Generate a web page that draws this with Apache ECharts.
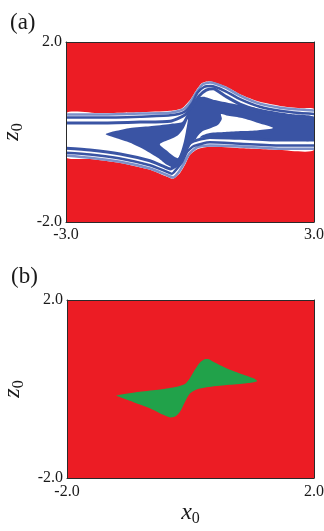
<!DOCTYPE html>
<html><head><meta charset="utf-8">
<script src="https://cdn.jsdelivr.net/npm/echarts@6/dist/echarts.min.js"></script>
<style>html,body{margin:0;padding:0;background:#fff}#c{width:324px;height:531px}</style>
</head><body><div id="c"></div>
<script>
// ---------- Panel (a) data (x0 in [-3,3], z0 in [-2,2]) ----------
const aXTicks = [-3, 3];
const aXTickLabels = ['-3.0', '3.0'];
const aZTicks = [-2, 2];
const aZTickLabels = ['-2.0', '2.0'];

// outer boundary of the non-red band
const bandTop = [[-3,0.42],[-2.18,0.42],[-1.21,0.44],[-0.48,0.47],[-0.19,0.53],[0,0.71],[0.15,0.93],[0.29,1.09],[0.48,1.13],[0.85,1.02],[1.21,0.84],[1.69,0.67],[2.18,0.58],[2.66,0.53],[3,0.51]];
const bandBottom = [[-3,-0.56],[-2.42,-0.60],[-1.69,-0.69],[-0.97,-0.84],[-0.60,-0.98],[-0.41,-1.04],[-0.24,-0.91],[-0.12,-0.73],[0,-0.51],[0.19,-0.38],[0.48,-0.33],[1.21,-0.36],[2.18,-0.40],[3,-0.40]];

// blue stripes along the upper edge
const stripeT1 = [[-3,0.39],[-2.18,0.39],[-1.21,0.41],[-0.48,0.43],[-0.17,0.50],[0.02,0.68],[0.17,0.90],[0.31,1.06],[0.48,1.10],[0.85,0.99],[1.21,0.81],[1.69,0.63],[2.18,0.54],[2.66,0.50],[3,0.48]];
const stripeT2 = [[-3,0.32],[-2.18,0.32],[-1.21,0.34],[-0.48,0.37],[-0.15,0.44],[0.05,0.64],[0.18,0.87],[0.34,1.00],[0.51,1.02],[0.85,0.91],[1.21,0.73],[1.69,0.56],[2.18,0.47],[2.66,0.42],[3,0.40]];
const stripeT3 = [[-3,0.20],[-2.18,0.20],[-1.21,0.22],[-0.48,0.24],[-0.12,0.38],[0.07,0.60],[0.22,0.80],[0.39,0.93],[0.56,0.96],[0.85,0.80],[1.21,0.62],[1.69,0.47],[2.18,0.38],[2.66,0.33],[3,0.31]];
// blue stripes along the lower edge
const stripeB1 = [[-3,-0.52],[-2.42,-0.57],[-1.69,-0.66],[-0.97,-0.81],[-0.60,-0.94],[-0.41,-1.01],[-0.27,-0.89],[-0.15,-0.71],[-0.02,-0.49],[0.17,-0.34],[0.48,-0.30],[1.21,-0.32],[2.18,-0.37],[3,-0.37]];
const stripeB2 = [[-3,-0.46],[-2.42,-0.50],[-1.69,-0.59],[-0.97,-0.74],[-0.60,-0.87],[-0.44,-0.93],[-0.34,-0.84],[-0.19,-0.67],[-0.07,-0.44],[0.10,-0.31],[0.48,-0.23],[1.21,-0.26],[2.18,-0.30],[3,-0.30]];
const stripeB3 = [[-3,-0.36],[-2.42,-0.40],[-1.69,-0.49],[-0.97,-0.64],[-0.65,-0.76],[-0.48,-0.82],[-0.36,-0.76],[-0.24,-0.58],[-0.12,-0.38],[0.05,-0.22],[0.48,-0.12],[1.21,-0.14],[2.18,-0.18],[3,-0.18]];

// central blue S-shaped region
const coreTop = [[-2.04,-0.05],[-1.81,0.02],[-1.45,0.09],[-0.97,0.13],[-0.48,0.18],[-0.19,0.22],[-0.07,0.40],[0.05,0.62],[0.19,0.76],[0.36,0.78],[0.60,0.71],[0.97,0.64],[1.45,0.56],[1.94,0.47],[2.42,0.40],[3,0.33]];
const coreBottom = [[-1.81,-0.13],[-1.45,-0.24],[-1.09,-0.40],[-0.77,-0.58],[-0.56,-0.73],[-0.39,-0.80],[-0.27,-0.76],[-0.17,-0.62],[-0.05,-0.40],[0.07,-0.20],[0.24,-0.13],[0.53,-0.12],[0.97,-0.15],[1.69,-0.17],[2.42,-0.18],[3,-0.18]];

// white holes inside the blue region
const holeA = [[-0.73,-0.27],[-0.48,-0.16],[-0.29,-0.07],[-0.15,0.09],[-0.05,0.29],[-0.10,0.00],[-0.15,-0.22],[-0.22,-0.44],[-0.29,-0.58],[-0.41,-0.53],[-0.58,-0.40]];
const holeB = [[0.07,-0.31],[0.17,-0.11],[0.31,0.02],[0.51,0.09],[0.68,0.16],[0.77,0.29],[0.75,0.40],[0.92,0.36],[1.26,0.31],[1.65,0.20],[2.01,0.09],[1.65,0.04],[1.26,0.02],[0.85,0.00],[0.48,-0.02],[0.27,-0.09],[0.15,-0.27]];

// ---------- Panel (b) data (x0 in [-2,2], z0 in [-2,2]) ----------
const bXTicks = [-2, 2];
const bXTickLabels = ['-2.0', '2.0'];
const bZTicks = [-2, 2];
const bZTickLabels = ['-2.0', '2.0'];

const greenUpper = [[-1.20,-0.145],[-0.82,-0.06],[-0.49,-0.01],[-0.22,0.05],[-0.09,0.11],[-0.01,0.24],[0.07,0.43],[0.15,0.59],[0.23,0.67],[0.30,0.67],[0.37,0.61],[0.59,0.46],[0.80,0.35],[1.02,0.24],[1.08,0.175]];
const greenLower = [[-1.17,-0.17],[-0.93,-0.29],[-0.66,-0.43],[-0.44,-0.58],[-0.33,-0.64],[-0.25,-0.62],[-0.17,-0.51],[-0.09,-0.29],[-0.01,-0.10],[0.10,-0.01],[0.26,0.04],[0.59,0.09],[0.91,0.13]];

// ---------- styling ----------
const RED = '#ec1c24', BLUE = '#3a54a4', LIGHTBLUE = '#7d90c9', GREEN = '#21a24a', WHITE = '#ffffff';
const FRAME = '#2a2a2a', TXT = '#1a1a1a';
const SERIF = "'Liberation Serif','DejaVu Serif',serif";

function closed(top, bottom) { return top.concat(bottom.slice().reverse()); }

function polySeries(pts, color, gi, z, smooth) {
  return {
    type: 'custom', xAxisIndex: gi * 2, yAxisIndex: gi * 2, clip: true, z: z, silent: true,
    data: pts, encode: { x: 0, y: 1 },
    renderItem: function (params, api) {
      if (params.dataIndex !== 0) return null;
      const points = pts.map(p => api.coord(p));
      return { type: 'polygon', shape: { points: points, smooth: smooth }, style: { fill: color, stroke: null } };
    }
  };
}
function stripeSeries(pts, color, width) {
  return {
    type: 'line', xAxisIndex: 0, yAxisIndex: 0, data: pts, symbol: 'none', showSymbol: false,
    smooth: 0.2, clip: true, z: 5, silent: true,
    lineStyle: { color: color, width: width }
  };
}
const nameRich = {
  i: { fontFamily: SERIF, fontStyle: 'italic', fontSize: 24, lineHeight: 28, color: TXT },
  s: { fontFamily: SERIF, fontSize: 16, lineHeight: 16, verticalAlign: 'bottom', color: TXT }
};
function xAxisCfg(gi, ticks, labels, pos, margin, name) {
  const c = {
    gridIndex: gi, type: 'value', min: ticks[0], max: ticks[ticks.length - 1], position: pos, z: 6,
    axisLine: { show: true, onZero: false, lineStyle: { color: FRAME, width: 1 } },
    axisTick: { show: false }, splitLine: { show: false },
    axisLabel: pos === 'bottom' ? {
      show: true, customValues: ticks, formatter: v => labels[ticks.indexOf(v)],
      margin: margin, fontFamily: SERIF, fontSize: 16, color: TXT
    } : { show: false }
  };
  if (name) { c.name = name; c.nameLocation = 'middle'; c.nameGap = 9; c.nameTextStyle = { rich: nameRich }; }
  return c;
}
function yAxisCfg(gi, ticks, labels, pos, name) {
  const c = {
    gridIndex: gi, type: 'value', min: ticks[0], max: ticks[ticks.length - 1], position: pos, z: 6,
    axisLine: { show: true, onZero: false, lineStyle: { color: FRAME, width: 1 } },
    axisTick: { show: false }, splitLine: { show: false },
    axisLabel: pos === 'left' ? {
      show: true, customValues: ticks, formatter: v => labels[ticks.indexOf(v)],
      margin: 4, fontFamily: SERIF, fontSize: 16, color: TXT
    } : { show: false }
  };
  if (name) { c.name = name; c.nameLocation = 'middle'; c.nameGap = 26; c.nameRotate = 90; c.nameTextStyle = { rich: nameRich }; }
  return c;
}

const option = {
  animation: false,
  backgroundColor: '#ffffff',
  title: [
    { text: '(a)', left: 5, top: 6, textStyle: { fontFamily: SERIF, fontSize: 23, fontWeight: 'normal', color: TXT } },
    { text: '(b)', left: 6, top: 260, textStyle: { fontFamily: SERIF, fontSize: 23, fontWeight: 'normal', color: TXT } }
  ],
  grid: [
    { left: 66, top: 42, width: 248, height: 180, show: true, backgroundColor: RED, borderWidth: 0, containLabel: false, outerBoundsMode: 'none' },
    { left: 67, top: 300, width: 247, height: 178, show: true, backgroundColor: RED, borderWidth: 0, containLabel: false, outerBoundsMode: 'none' }
  ],
  xAxis: [
    xAxisCfg(0, aXTicks, aXTickLabels, 'bottom', 5),
    xAxisCfg(0, aXTicks, aXTickLabels, 'top'),
    xAxisCfg(1, bXTicks, bXTickLabels, 'bottom', 6, '{i|x}{s|0}'),
    xAxisCfg(1, bXTicks, bXTickLabels, 'top')
  ],
  yAxis: [
    yAxisCfg(0, aZTicks, aZTickLabels, 'left', '{i|z}{s|0}'),
    yAxisCfg(0, aZTicks, aZTickLabels, 'right'),
    yAxisCfg(1, bZTicks, bZTickLabels, 'left', '{i|z}{s|0}'),
    yAxisCfg(1, bZTicks, bZTickLabels, 'right')
  ],
  series: [
    polySeries(closed(bandTop, bandBottom), WHITE, 0, 2, 0.2),
    polySeries(closed(coreTop, coreBottom), BLUE, 0, 3, 0.2),
    polySeries(holeA, WHITE, 0, 4, 0.25),
    polySeries(holeB, WHITE, 0, 4, 0.25),
    stripeSeries(stripeT1, LIGHTBLUE, 2.5),
    stripeSeries(stripeT2, BLUE, 2.5),
    stripeSeries(stripeT3, BLUE, 3),
    stripeSeries(stripeB1, LIGHTBLUE, 2.5),
    stripeSeries(stripeB2, BLUE, 2.5),
    stripeSeries(stripeB3, BLUE, 3),
    polySeries(closed(greenUpper, greenLower), GREEN, 1, 2, 0.25)
  ]
};
const chart = echarts.init(document.getElementById('c'), null, { renderer: 'canvas' });
chart.setOption(option);
</script></body></html>
